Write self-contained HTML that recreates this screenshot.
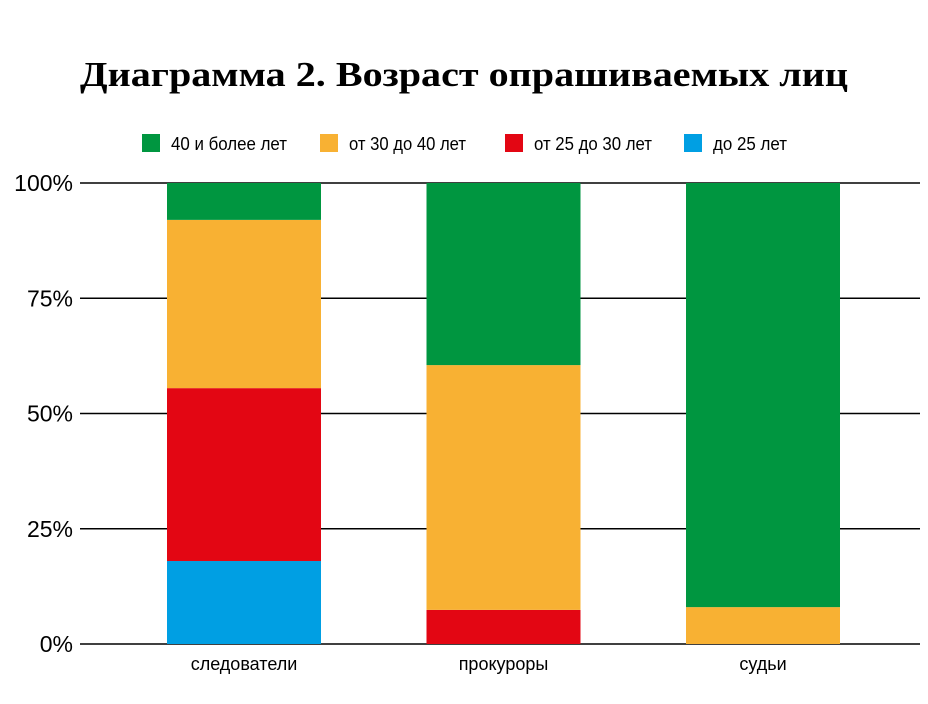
<!DOCTYPE html>
<html><head><meta charset="utf-8">
<style>
body{margin:0;background:#fff;width:928px;height:699px;overflow:hidden}
svg text{font-family:"Liberation Sans Narrow","Liberation Sans",sans-serif}
</style></head>
<body>
<svg width="928" height="699">
<text x="80" y="86" textLength="768" lengthAdjust="spacingAndGlyphs" font-size="35" font-weight="bold" style="font-family:'Liberation Serif',serif">Диаграмма 2. Возраст опрашиваемых лиц</text>
<g id="legend"></g>
<g id="grid"></g>
<g id="bars"></g>
<g id="labels"></g>
</svg>
<script>
const categories=["следователи","прокуроры","судьи"];
const seriesNames=["до 25 лет","от 25 до 30 лет","от 30 до 40 лет","40 и более лет"];
const s25=[18,0,0];
const s2530=[37.5,7.4,0];
const s3040=[36.5,53.1,8];
const s40=[8,39.5,92];
const ticks=[0,25,50,75,100];
const colors=["#009fe3","#e30613","#f8b133","#009640"];
const ns="http://www.w3.org/2000/svg";
function mk(t,a,p){const e=document.createElementNS(ns,t);for(const k in a)e.setAttribute(k,a[k]);p.appendChild(e);return e;}
const y0=644,y1=183;
function Y(v){return y0-(y0-y1)*v/100;}
function X(i){return 167+i*259.5;}
const bw=154;
const grid=document.getElementById('grid');
ticks.forEach(t=>{
 const l=mk('line',{x1:80,x2:920,y1:Y(t),y2:Y(t),stroke:'#000','stroke-width':1.5},grid);
 
 
 const tx=mk('text',{x:73,y:Y(t)+8,'text-anchor':'end','font-size':23},grid);
 tx.textContent=t+'%';
 
 
});
const series=[s25,s2530,s3040,s40];
const bars=document.getElementById('bars');
categories.forEach((c,i)=>{
 let acc=0;
 series.forEach((s,j)=>{
  const v=s[i]; if(!v){return;}
  const r=mk('rect',{x:X(i),y:Y(acc+v),width:bw,height:Y(acc)-Y(acc+v),fill:colors[j]},bars);
  
  
  acc+=v;
 });
 const t=mk('text',{x:X(i)+bw/2,y:670,'text-anchor':'middle','font-size':18},document.getElementById('labels'));
 t.textContent=c;
 
 
});
const legend=document.getElementById('legend');
const lx=[142,320,505,684];
const lw=[116,117,118,74];
[3,2,1,0].forEach((j,k)=>{
 const r=mk('rect',{x:lx[k],y:134,width:18,height:18,fill:colors[j]},legend);
 
 
 const t=mk('text',{x:lx[k]+29,y:150,'font-size':18,textLength:lw[k],lengthAdjust:'spacingAndGlyphs'},legend);
 t.textContent=seriesNames[j];
 
 
});
</script>
</body></html>
